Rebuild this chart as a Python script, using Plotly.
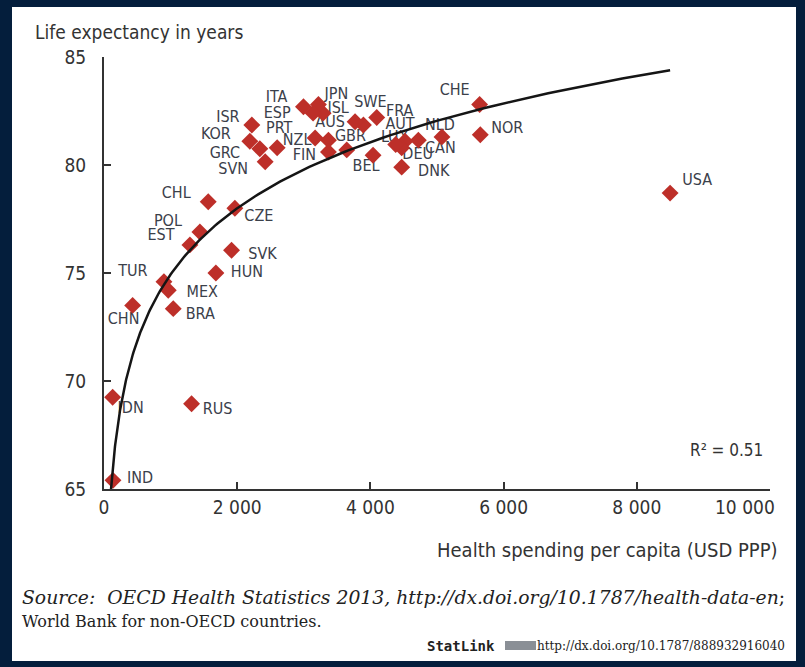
import numpy as np
import plotly.graph_objects as go

# Country codes, health spending per capita (USD PPP) and life expectancy (years)
countries = ["USA", "NOR", "CHE", "NLD", "CAN", "AUT", "DEU", "LUX", "DNK", "BEL",
             "FRA", "SWE", "AUS", "ISL", "JPN", "ESP", "ITA", "NZL", "GBR", "FIN",
             "IRL", "ISR", "KOR", "GRC", "SVN", "PRT", "CZE", "CHL", "POL", "EST",
             "SVK", "HUN", "TUR", "MEX", "BRA", "CHN", "IDN", "RUS", "IND"]
spending = [8500, 5650, 5640, 5075, 4720, 4520, 4470, 4380, 4470, 4040,
            4095, 3895, 3770, 3290, 3220, 3140, 2995, 3170, 3370, 3370,
            3645, 2220, 2190, 2340, 2420, 2600, 1965, 1565, 1440, 1290,
            1915, 1680, 900, 965, 1040, 430, 130, 1315, 135]
life_exp = [78.7, 81.4, 82.8, 81.3, 81.15, 81.1, 80.8, 80.95, 79.9, 80.45,
            82.2, 81.85, 82.0, 82.4, 82.8, 82.4, 82.7, 81.25, 81.15, 80.6,
            80.7, 81.85, 81.1, 80.75, 80.15, 80.8, 78.0, 78.3, 76.9, 76.3,
            76.05, 75.0, 74.6, 74.2, 73.35, 73.5, 69.25, 68.95, 65.4]

# Logarithmic trend: life_exp = intercept + slope * ln(spending)
trend_intercept = 44.4
trend_slope = 4.42
r_squared_text = "R² = 0.51"

x_ticks = [0, 2000, 4000, 6000, 8000, 10000]
x_ticktext = ["0", "2 000", "4 000", "6 000", "8 000", "10 000"]
y_ticks = [65, 70, 75, 80, 85]

# Label placement: offset of each country code from its marker, in pixels (right, up)
label_offsets = {
    "USA": (27, 12), "NOR": (27, 6), "CHE": (-25, 14), "NLD": (-2, 11), "CAN": (22, -9),
    "AUT": (-5, 16), "DEU": (16, -7), "LUX": (-1, 6), "DNK": (32, -5), "BEL": (-7, -12),
    "FRA": (23, 5), "SWE": (7, 22), "AUS": (-25, -1), "ISL": (15, 4), "JPN": (18, 10),
    "ESP": (-36, -1), "ITA": (-27, 9), "NZL": (-18, -3), "GBR": (22, 3), "FIN": (-24, -4),
    "ISR": (-24, 7), "KOR": (-34, 6), "GRC": (-35, -5), "SVN": (-32, -8), "PRT": (2, 19),
    "CZE": (24, -9), "CHL": (-32, 8), "POL": (-32, 10), "EST": (-29, 9), "SVK": (31, -5),
    "HUN": (31, 0), "TUR": (-31, 10), "MEX": (34, -3), "BRA": (27, -6), "CHN": (-9, -15),
    "IDN": (18, -12), "RUS": (26, -6), "IND": (27, 1),
}

W, H = 805, 667
M_L, M_R, M_T, M_B = 104, 35, 57, 178
X_RANGE = (0, 10000)
Y_RANGE = (65, 85)
plot_w = W - M_L - M_R
plot_h = H - M_T - M_B
px_per_x = plot_w / (X_RANGE[1] - X_RANGE[0])
px_per_y = plot_h / (Y_RANGE[1] - Y_RANGE[0])


def paper_x(px):
    return (px - M_L) / plot_w


def paper_y(py):
    return (H - M_B - py) / plot_h


COND = "DejaVu Sans Condensed, DejaVu Sans, sans-serif"
SERIF = "DejaVu Serif, serif"
TEXT_COL = "#333333"
NAVY = "#041e3c"
TICK_FONT = dict(family=COND, size=19, color=TEXT_COL)

# Trend curve from where it meets the bottom of the axis out to the highest spender
x_start = np.exp((Y_RANGE[0] - trend_intercept) / trend_slope)
trend_x = np.geomspace(x_start, max(spending), 200)
trend_y = trend_intercept + trend_slope * np.log(trend_x)

# Label coordinates derived from the pixel offsets
lab_x, lab_y, lab_t = [], [], []
for c, xv, yv in zip(countries, spending, life_exp):
    if c in label_offsets:
        dx, dy = label_offsets[c]
        lab_x.append(xv + dx / px_per_x)
        lab_y.append(yv + dy / px_per_y)
        lab_t.append(c)

fig = go.Figure()
fig.add_trace(go.Scatter(
    x=lab_x, y=lab_y, text=lab_t, mode="text", textposition="middle center",
    textfont=dict(family=COND, size=16, color="#3b404a"), hoverinfo="skip",
    showlegend=False, cliponaxis=False,
))
fig.add_trace(go.Scatter(
    x=spending, y=life_exp, mode="markers", text=countries,
    marker=dict(symbol="diamond", size=13, color="#bd2f29", line=dict(width=0)),
    showlegend=False, cliponaxis=False,
))
fig.add_trace(go.Scatter(
    x=trend_x, y=trend_y, mode="lines", line=dict(color="#151515", width=2.5),
    hoverinfo="skip", showlegend=False,
))

annotations = [
    dict(text="Life expectancy in years", x=paper_x(33), y=paper_y(32),
         xanchor="left", yanchor="middle", font=dict(family=COND, size=19, color=TEXT_COL)),
    dict(text="Health spending per capita (USD PPP)", x=paper_x(780), y=paper_y(550),
         xanchor="right", yanchor="middle", font=dict(family=COND, size=20, color=TEXT_COL)),
    dict(text=r_squared_text, x=paper_x(765), y=paper_y(450),
         xanchor="right", yanchor="middle", font=dict(family=COND, size=17, color=TEXT_COL)),
    # last x tick label, kept inside the page next to its tick
    dict(text=x_ticktext[-1], x=paper_x(777), y=paper_y(507),
         xanchor="right", yanchor="middle", font=TICK_FONT),
    dict(text="<i>Source:  OECD Health Statistics 2013, http://dx.doi.org/10.1787/health-data-en</i>;",
         x=paper_x(20), y=paper_y(597), xanchor="left", yanchor="middle",
         font=dict(family=SERIF, size=18.8, color="#222222")),
    dict(text="World Bank for non-OECD countries.",
         x=paper_x(20), y=paper_y(621), xanchor="left", yanchor="middle",
         font=dict(family=SERIF, size=16, color="#222222")),
    dict(text="<b>StatLink</b>", x=paper_x(497), y=paper_y(646), xanchor="right", yanchor="middle",
         font=dict(family="DejaVu Sans Mono, monospace", size=14, color="#222222")),
    dict(text="http://dx.doi.org/10.1787/888932916040", x=paper_x(787), y=paper_y(646),
         xanchor="right", yanchor="middle",
         font=dict(family=SERIF, size=12, color="#222222")),
]
for ann in annotations:
    ann.update(xref="paper", yref="paper", showarrow=False)

shapes = [
    # white page panel inside the navy frame
    dict(type="rect", xref="paper", yref="paper", layer="below",
         x0=paper_x(12), x1=paper_x(796), y0=paper_y(661), y1=paper_y(7),
         fillcolor="white", line=dict(width=0)),
    # StatLink badge
    dict(type="rect", xref="paper", yref="paper",
         x0=paper_x(505), x1=paper_x(536), y0=paper_y(650), y1=paper_y(641),
         fillcolor="#8a8f96", line=dict(width=0)),
]

fig.update_layout(
    width=W, height=H,
    margin=dict(l=M_L, r=M_R, t=M_T, b=M_B, pad=0, autoexpand=False),
    paper_bgcolor=NAVY, plot_bgcolor="#e8eaed",
    annotations=annotations, shapes=shapes,
    showlegend=False,
)
# the final tick's label is drawn as an annotation above
x_labels = x_ticktext[:-1] + [""]
fig.update_xaxes(
    range=list(X_RANGE), tickvals=x_ticks, ticktext=x_labels, automargin=False,
    showline=True, linecolor="#333333", linewidth=2, mirror=False,
    ticks="inside", ticklen=7, tickcolor="#333333", tickwidth=1.5,
    showgrid=True, gridcolor="white", gridwidth=2, zeroline=False,
    tickfont=TICK_FONT,
)
fig.update_yaxes(
    range=list(Y_RANGE), tickvals=y_ticks, automargin=False,
    showline=True, linecolor="#333333", linewidth=2, mirror=False,
    ticks="inside", ticklen=7, tickcolor="#333333", tickwidth=1.5,
    showgrid=True, gridcolor="white", gridwidth=2, zeroline=False,
    tickfont=TICK_FONT,
    ticklabelstandoff=12,
)

fig.write_html("out.html")
